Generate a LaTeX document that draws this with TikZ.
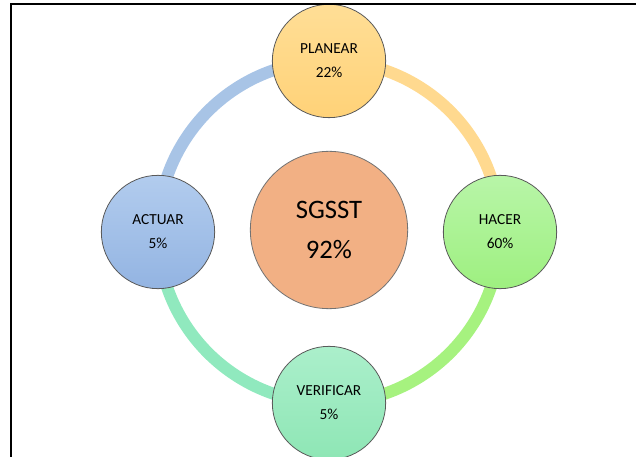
\documentclass[tikz,border=0pt]{standalone}
\usepackage{fontspec}
\setmainfont{Carlito}
\usetikzlibrary{backgrounds}
\definecolor{planbg}{RGB}{255,222,150}
\definecolor{planlo}{RGB}{255,210,120}
\definecolor{hacerbg}{RGB}{184,245,168}
\definecolor{hacerlo}{RGB}{158,240,128}
\definecolor{verifbg}{RGB}{171,239,203}
\definecolor{veriflo}{RGB}{142,230,181}
\definecolor{actbg}{RGB}{178,204,238}
\definecolor{actlo}{RGB}{147,180,226}
\definecolor{corebg}{RGB}{242,176,132}
\definecolor{ringblue}{RGB}{168,196,230}
\definecolor{ringorange}{RGB}{255,217,143}
\definecolor{ringgreen}{RGB}{166,242,127}
\definecolor{ringmint}{RGB}{144,233,190}

\begin{document}
\begin{tikzpicture}[x=0.75pt,y=0.75pt,
    phase/.style={circle,draw=black!65,line width=0.6pt,minimum size=85pt,
      inner sep=0pt,align=center,font=\fontsize{11.5}{18}\selectfont},
    core/.style={circle,draw=black!55,line width=0.6pt,fill=corebg,
      minimum size=118pt,inner sep=0pt,align=center,
      font=\fontsize{20}{30}\selectfont},
    ringarc/.style={line width=9pt,draw=#1}]
    \useasboundingbox (0,0) rectangle (636,457);

    \node[phase,top color=planbg,bottom color=planlo] (planear) at (329,396)
      {PLANEAR\\22\%};
    \node[phase,top color=hacerbg,bottom color=hacerlo] (hacer) at (500,225)
      {HACER\\60\%};
    \node[phase,top color=verifbg,bottom color=veriflo] (verificar) at (329,54)
      {VERIFICAR\\5\%};
    \node[phase,top color=actbg,bottom color=actlo] (actuar) at (158,225)
      {ACTUAR\\5\%};
    \node[core] (sgsst) at (329,227) {SGSST\\92\%};

    % ring behind the circles
    \begin{scope}[on background layer]
      \draw[ringarc=ringblue] (actuar.center)
        arc[start angle=180,end angle=90,radius=128.25pt];
      \draw[ringarc=ringorange] (planear.center)
        arc[start angle=90,end angle=0,radius=128.25pt];
      \draw[ringarc=ringgreen] (hacer.center)
        arc[start angle=0,end angle=-90,radius=128.25pt];
      \draw[ringarc=ringmint] (verificar.center)
        arc[start angle=-90,end angle=-180,radius=128.25pt];
    \end{scope}

    % frame
    \draw[line width=1.5pt] (11,0) -- (11,453) -- (636,453);
  \end{tikzpicture}
\end{document}
